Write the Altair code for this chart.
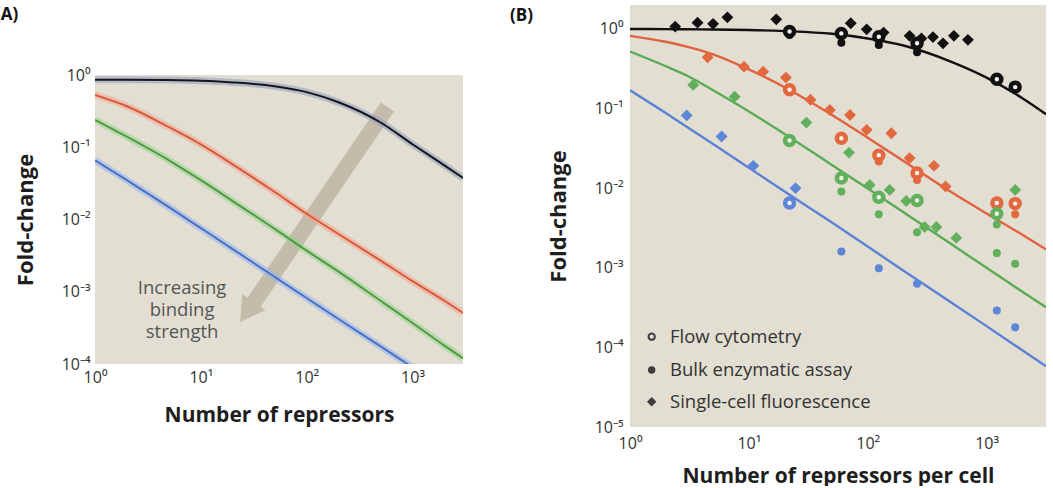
import altair as alt
import pandas as pd

# ---------------- Panel A: theory curves ----------------
A_R = [1, 2, 5, 10, 20, 50, 100, 200, 500, 1000, 2000, 3000]
A_black = [0.86, 0.86, 0.85, 0.83, 0.79, 0.70, 0.58, 0.42, 0.22, 0.11, 0.056, 0.0375]
A_red = [0.53, 0.37, 0.19, 0.11, 0.058, 0.024, 0.012, 0.0063, 0.0027, 0.0014, 0.00075, 0.00051]
A_green = [0.24, 0.14, 0.066, 0.035, 0.018, 0.0074, 0.0037, 0.0019, 0.00075, 0.00037, 0.00018, 0.00012]
A_blue_R = [1, 2, 5, 10, 20, 50, 100, 200, 500, 1000]
A_blue = [0.066, 0.035, 0.0148, 0.0076, 0.0039, 0.0016, 0.00082, 0.00042, 0.000175, 0.00009]

arrow_R = [579]
arrow_fc = [0.36]
arrow_end_R = [30.6]
arrow_end_fc = [0.000656]
arrow_head_R = [27.3]
arrow_head_fc = [0.000524]

note_lines = ["Increasing", "binding", "strength"]
note_R = [6.65]
note_fc = [0.00113]

# ---------------- Panel B: theory curves ----------------
B_R = [1, 2, 3, 5, 10, 20, 50, 100, 200, 500, 1000, 2000, 3162]
B_black = [1.0, 0.995, 0.99, 0.985, 0.97, 0.94, 0.87, 0.76, 0.62, 0.39, 0.245, 0.135, 0.085]
B_red = [0.82, 0.69, 0.60, 0.48, 0.31, 0.185, 0.083, 0.043, 0.022, 0.0090, 0.0048, 0.0026, 0.0017]
B_green = [0.52, 0.34, 0.26, 0.17, 0.092, 0.048, 0.0195, 0.0099, 0.005, 0.002, 0.001, 0.0005, 0.00032]
B_blue = [0.17, 0.088, 0.059, 0.036, 0.018, 0.0091, 0.0037, 0.00185, 0.00092, 0.00037, 0.000185, 0.000092, 0.000058]

# Flow cytometry (open circles)
flow_black_R = [22, 60, 124, 260, 1220, 1740]
flow_black = [0.93, 0.88, 0.80, 0.66, 0.234, 0.186]
flow_red_R = [22, 60, 124, 260, 1220, 1740]
flow_red = [0.172, 0.0425, 0.026, 0.0155, 0.0065, 0.0064]
flow_green_R = [22, 60, 124, 260, 1220]
flow_green = [0.0397, 0.0134, 0.0077, 0.0070, 0.00477]
flow_blue_R = [22]
flow_blue = [0.0065]

# Bulk enzymatic assay (filled circles)
bulk_black_R = [22, 60, 124, 260]
bulk_black = [0.84, 0.67, 0.63, 0.51]
bulk_red_R = [124, 260, 1740]
bulk_red = [0.0216, 0.0127, 0.0047]
bulk_green_R = [60, 124, 260, 1220, 1220, 1740]
bulk_green = [0.0091, 0.0047, 0.0028, 0.0035, 0.00153, 0.00112]
bulk_blue_R = [60, 124, 260, 1220, 1740]
bulk_blue = [0.0016, 0.00099, 0.00063, 0.00029, 0.000179]

# Single-cell fluorescence (diamonds)
sc_black_R = [2.4, 3.7, 5.0, 6.6, 17, 72, 98, 136, 225, 283, 354, 430, 531, 697]
sc_black = [1.07, 1.20, 1.16, 1.40, 1.32, 1.18, 0.99, 0.90, 0.82, 0.76, 0.79, 0.66, 0.82, 0.73]
sc_red_R = [4.5, 9.1, 13.2, 20.5, 33, 48, 71, 98, 158, 225, 361, 452]
sc_red = [0.44, 0.336, 0.291, 0.245, 0.129, 0.096, 0.083, 0.054, 0.049, 0.0239, 0.0191, 0.0105]
sc_green_R = [3.4, 7.6, 30.5, 69.6, 104, 153, 211, 301, 378, 556, 1740]
sc_green = [0.198, 0.141, 0.0667, 0.028, 0.011, 0.0095, 0.0069, 0.00325, 0.00325, 0.00237, 0.0095]
sc_blue_R = [3.0, 5.9, 10.9, 24.7]
sc_blue = [0.082, 0.0446, 0.0191, 0.0100]

legend_labels = ["Flow cytometry", "Bulk enzymatic assay", "Single-cell fluorescence"]

tick_x = [1, 10, 100, 1000]
tick_yA = [1e-4, 1e-3, 1e-2, 1e-1, 1]
tick_yB = [1e-5, 1e-4, 1e-3, 1e-2, 1e-1, 1]

# ---------------- styling ----------------
FONT = "Open Sans"
BG = "#e2ded2"
ARROW = "#c4bbab"
CORE = {"black": "#161616", "red": "#d95a3b", "green": "#4e9a48", "blue": "#4a70c4"}
HALO = {"black": "#8f9cc0", "red": "#f2a58e", "green": "#9bd48a", "blue": "#94b2ee"}
COLB = {"black": "#111111", "red": "#e0623f", "green": "#5aab56", "blue": "#5b82d5"}
MARK = {"black": "#111111", "red": "#e2683f", "green": "#62b05c", "blue": "#5e86d8"}

EXP = "round(log(datum.value)/LN10)"
label_expr = ("'10' + (" + EXP + " < 0 ? '\u207b' : '') + substring('\u2070\u00b9\u00b2\u00b3\u2074\u2075\u2076\u2077\u2078\u2079', abs("
              + EXP + "), abs(" + EXP + ") + 1)")


def df(R, fc):
    return pd.DataFrame({"R": R, "fc": fc})


# ---------------- Panel A ----------------
WA, HA = 368, 359
scAx = alt.Scale(type="log", domain=[1, 3000], nice=False)
scAy = alt.Scale(type="log", domain=[1e-4, 9.31], nice=False)
axAx = alt.Axis(values=tick_x, labelExpr=label_expr, title="Number of repressors",
                titleX=WA / 2, titleY=51, titleBaseline="middle", titleAlign="center",
                titleFontSize=21, labelPadding=5, labelFlush=False)
axAy = alt.Axis(values=tick_yA, labelExpr=label_expr, title="Fold-change",
                titleX=-70, titleY=214.5, titleAngle=270, titleBaseline="middle",
                titleAlign="center", titleFontSize=22, labelPadding=5)


def XA():
    return alt.X("R:Q", scale=scAx, axis=axAx)


def YA():
    return alt.Y("fc:Q", scale=scAy, axis=axAy)


layersA = []
bgA = pd.DataFrame({"R": [1], "R2": [3000], "fc": [1e-4], "fc2": [1]})
layersA.append(alt.Chart(bgA).mark_rect(color=BG).encode(x=XA(), x2="R2:Q", y=YA(), y2="fc2:Q"))

shaft = pd.DataFrame({"R": arrow_R, "fc": arrow_fc, "R2": arrow_end_R, "fc2": arrow_end_fc})
layersA.append(alt.Chart(shaft).mark_rule(color=ARROW, strokeWidth=16, strokeCap="butt")
               .encode(x=XA(), y=YA(), x2="R2:Q", y2="fc2:Q"))
layersA.append(alt.Chart(df(arrow_head_R, arrow_head_fc))
               .mark_point(shape="triangle-down", filled=True, size=800, angle=34.4,
                           color=ARROW, opacity=1)
               .encode(x=XA(), y=YA()))

seriesA = [("black", A_R, A_black), ("red", A_R, A_red), ("green", A_R, A_green), ("blue", A_blue_R, A_blue)]
for name, R, fc in seriesA:
    layersA.append(alt.Chart(df(R, fc)).mark_line(color=HALO[name], strokeWidth=7, opacity=0.55,
                                                  interpolate="monotone", clip=True)
                   .encode(x=XA(), y=YA()))
for name, R, fc in seriesA:
    layersA.append(alt.Chart(df(R, fc)).mark_line(color=CORE[name], strokeWidth=2,
                                                  interpolate="monotone", clip=True)
                   .encode(x=XA(), y=YA()))

note = pd.DataFrame({"R": note_R, "fc": note_fc, "t": ["\n".join(note_lines)]})
layersA.append(alt.Chart(note).mark_text(font=FONT, fontSize=18.5, color="#555555",
                                         align="center", baseline="middle",
                                         lineBreak="\n", lineHeight=22)
               .encode(x=XA(), y=YA(), text="t:N"))
layersA.append(alt.Chart(pd.DataFrame({"t": ["(A)"]}))
               .mark_text(font=FONT, fontSize=17, fontWeight="bold", color="#111111",
                          align="left", baseline="middle")
               .encode(x=alt.value(-100), y=alt.value(10), text="t:N"))

chartA = alt.layer(*layersA).properties(width=WA, height=HA)

# ---------------- Panel B ----------------
WB, HB = 416, 422
scBx = alt.Scale(type="log", domain=[1, 3162], nice=False)
scBy = alt.Scale(type="log", domain=[1e-5, 2.0], nice=False)
axBx = alt.Axis(values=tick_x, labelExpr=label_expr, title="Number of repressors per cell",
                titleX=WB / 2, titleY=49, titleBaseline="middle", titleAlign="center",
                titleFontSize=21, labelPadding=8, labelFlush=False)
axBy = alt.Axis(values=tick_yB, labelExpr=label_expr, title="Fold-change",
                titleX=-72, titleY=HB / 2, titleAngle=270, titleBaseline="middle",
                titleAlign="center", titleFontSize=22, labelPadding=7)


def XB():
    return alt.X("R:Q", scale=scBx, axis=axBx)


def YB():
    return alt.Y("fc:Q", scale=scBy, axis=axBy)


layersB = []
bgB = pd.DataFrame({"R": [1], "R2": [3162], "fc": [1e-5], "fc2": [2.0]})
layersB.append(alt.Chart(bgB).mark_rect(color=BG).encode(x=XB(), x2="R2:Q", y=YB(), y2="fc2:Q"))

for name, fc in [("black", B_black), ("red", B_red), ("green", B_green), ("blue", B_blue)]:
    layersB.append(alt.Chart(df(B_R, fc)).mark_line(color=COLB[name], strokeWidth=2.4,
                                                    interpolate="monotone", clip=True)
                   .encode(x=XB(), y=YB()))

for name, R, fc in [("black", sc_black_R, sc_black), ("red", sc_red_R, sc_red),
                    ("green", sc_green_R, sc_green), ("blue", sc_blue_R, sc_blue)]:
    layersB.append(alt.Chart(df(R, fc)).mark_point(shape="diamond", filled=True, size=140,
                                                   color=MARK[name], opacity=1)
                   .encode(x=XB(), y=YB()))
for name, R, fc in [("black", bulk_black_R, bulk_black), ("red", bulk_red_R, bulk_red),
                    ("green", bulk_green_R, bulk_green), ("blue", bulk_blue_R, bulk_blue)]:
    layersB.append(alt.Chart(df(R, fc)).mark_circle(size=64, color=MARK[name], opacity=1)
                   .encode(x=XB(), y=YB()))
for name, R, fc in [("black", flow_black_R, flow_black), ("red", flow_red_R, flow_red),
                    ("green", flow_green_R, flow_green), ("blue", flow_blue_R, flow_blue)]:
    layersB.append(alt.Chart(df(R, fc)).mark_point(shape="circle", filled=False, fill="#f4f2ec",
                                                   fillOpacity=1, stroke=MARK[name], strokeWidth=4.5,
                                                   size=80, opacity=1)
                   .encode(x=XB(), y=YB()))

# legend (annotation)
leg_y = [331.7, 365, 396.7]
leg_rows = [
    dict(shape="circle", filled=False, size=40),
    dict(shape="circle", filled=True, size=55),
    dict(shape="diamond", filled=True, size=90),
]
for i, (lab, spec) in enumerate(zip(legend_labels, leg_rows)):
    one = pd.DataFrame({"t": [lab]})
    if spec["filled"]:
        pm = alt.Chart(one).mark_point(shape=spec["shape"], filled=True, size=spec["size"],
                                       color="#3d3d3d", opacity=1)
    else:
        pm = alt.Chart(one).mark_point(shape=spec["shape"], filled=False, size=spec["size"],
                                       stroke="#3d3d3d", strokeWidth=2, opacity=1)
    layersB.append(pm.encode(x=alt.value(21.7), y=alt.value(leg_y[i])))
    layersB.append(alt.Chart(one).mark_text(font=FONT, fontSize=18.5, color="#333333",
                                            align="left", baseline="middle")
                   .encode(x=alt.value(40), y=alt.value(leg_y[i]), text="t:N"))

layersB.append(alt.Chart(pd.DataFrame({"t": ["(B)"]}))
               .mark_text(font=FONT, fontSize=17, fontWeight="bold", color="#111111",
                          align="left", baseline="middle")
               .encode(x=alt.value(-120), y=alt.value(11), text="t:N"))

chartB = alt.layer(*layersB).properties(width=WB, height=HB)

chart = (
    alt.hconcat(chartA, chartB, spacing=47)
    .properties(padding={"left": -5, "top": 5, "right": 0, "bottom": 0}, background="white")
    .configure_view(strokeWidth=0)
    .configure_axis(grid=False, ticks=False, domain=False, tickSize=0,
                    labelFont=FONT, labelFontSize=16, labelColor="#333333",
                    titleFont=FONT, titleFontSize=19, titleFontWeight="bold", titleColor="#1e1e1e")
)

chart.save("out.html", embed_options={"renderer": "svg", "actions": False})
